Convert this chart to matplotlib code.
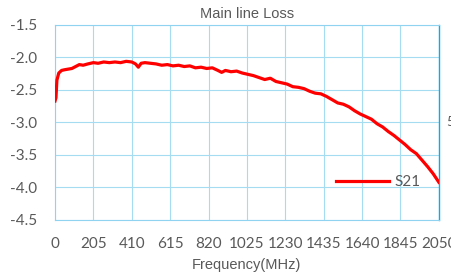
import numpy as np
import matplotlib.pyplot as plt

# S21 (MHz, dB)
freq = [0, 5, 10, 20, 35, 50, 70, 90, 110, 130, 150, 175, 205, 230, 260, 290, 320, 350, 380, 410,
        430, 445, 460, 480, 510, 540, 570, 600, 630, 660, 690, 720, 750, 780, 810, 840, 870, 890,
        910, 940, 970, 1000, 1030, 1060, 1090, 1120, 1150, 1180, 1210, 1240, 1270, 1300, 1330,
        1360, 1390, 1420, 1450, 1480, 1510, 1540, 1570, 1600, 1630, 1660, 1690, 1720, 1750,
        1780, 1810, 1840, 1870, 1900, 1930, 1960, 1990, 2020, 2050]
s21 = [-2.67, -2.62, -2.35, -2.24, -2.2, -2.19, -2.18, -2.17, -2.14, -2.11, -2.12, -2.1, -2.08,
       -2.09, -2.07, -2.08, -2.07, -2.08, -2.06, -2.07, -2.1, -2.15, -2.09, -2.08, -2.09, -2.1,
       -2.12, -2.11, -2.13, -2.12, -2.14, -2.13, -2.16, -2.15, -2.17, -2.16, -2.2, -2.23, -2.2,
       -2.22, -2.21, -2.24, -2.26, -2.28, -2.31, -2.34, -2.32, -2.37, -2.39, -2.41, -2.45, -2.46,
       -2.48, -2.52, -2.55, -2.56, -2.6, -2.65, -2.7, -2.72, -2.76, -2.82, -2.87, -2.91, -2.95,
       -3.02, -3.07, -3.14, -3.2, -3.27, -3.34, -3.42, -3.48, -3.58, -3.68, -3.79, -3.92]

xticks = list(range(0, 2051, 205))
yticks = [-1.5, -2.0, -2.5, -3.0, -3.5, -4.0, -4.5]

fig = plt.figure(figsize=(4.51, 2.77), dpi=100)
ax = fig.add_axes([0.122, 0.206, 0.851, 0.704])

ax.plot(freq, s21, color='#ff0000', linewidth=2.3, label='S21', zorder=3)

ax.set_xlim(0, 2050)
ax.set_ylim(-4.5, -1.5)
ax.set_xticks(xticks)
ax.set_yticks(yticks)
ax.set_yticklabels([f"{v:.1f}" for v in yticks])
ax.grid(color='#a6dcf2', linewidth=0.8)
ax.tick_params(length=0, colors='#595959', labelsize=11)
for lab in ax.get_xticklabels() + ax.get_yticklabels():
    lab.set_family('Lato')
ax.tick_params(axis='x', pad=12)
ax.tick_params(axis='y', pad=13)

for s in ['left', 'top', 'bottom']:
    ax.spines[s].set_color('#8fd3f0')
    ax.spines[s].set_linewidth(0.8)
ax.spines['right'].set_color('#00b0f0')
ax.spines['right'].set_linewidth(1.0)

ax.set_title('Main line Loss', fontsize=10.5, color='#595959', family='Liberation Sans', pad=5)
ax.set_xlabel('Frequency(MHz)', fontsize=10.5, color='#595959', family='Liberation Sans', labelpad=5)

leg = ax.legend(loc='center left', bbox_to_anchor=(0.696, 0.193), frameon=False,
                handlelength=3.45, handletextpad=0.4, prop={'family': 'Lato', 'size': 11})
for t in leg.get_texts():
    t.set_color('#595959')

fig.text(0.99, 0.545, '5', fontsize=10, color='#595959', family='Lato')

plt.savefig('out.png', dpi=100)
